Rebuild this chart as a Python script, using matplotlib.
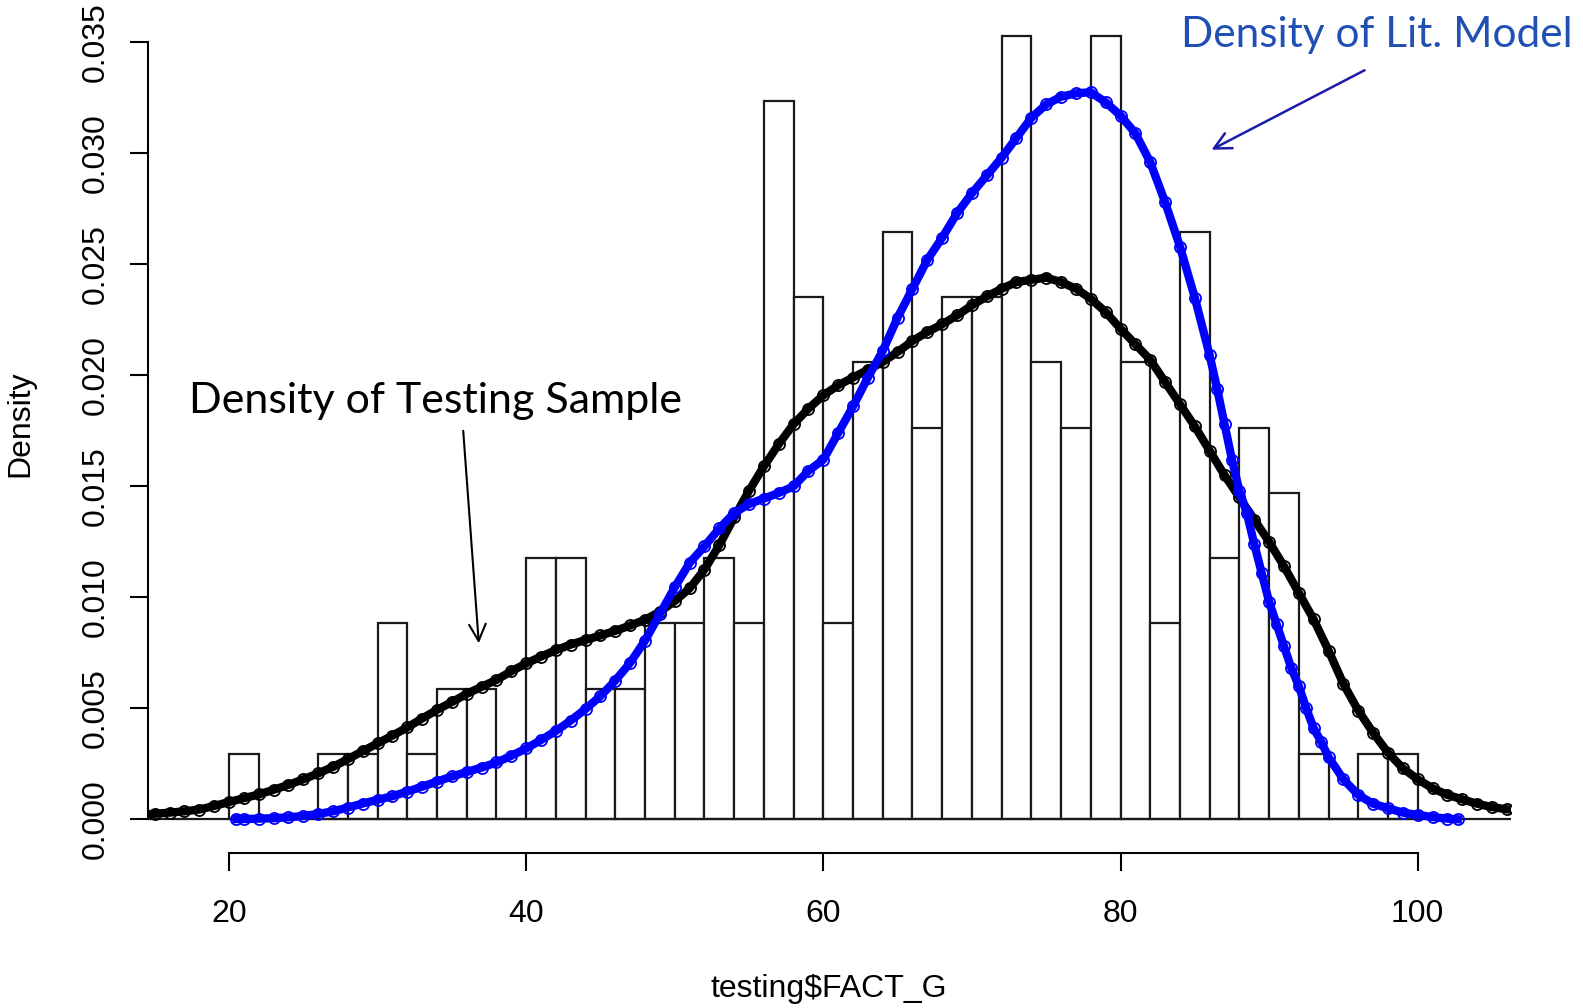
import numpy as np
import matplotlib
matplotlib.use("Agg")
import matplotlib.pyplot as plt

# histogram of testing$FACT_G, bins of width 2 from 20 to 100
bin_left = np.arange(20, 100, 2)
counts = [1, 0, 0, 1, 1, 3, 1, 2, 2, 0,
          4, 4, 2, 2, 3, 3, 4, 3, 11, 8,
          3, 7, 9, 6, 8, 8, 12, 7, 6, 12,
          7, 3, 9, 4, 6, 5, 1, 0, 1, 1]

# density of testing sample (black)
black_x = list(range(14, 108))
black_y = [0.0002, 0.00025, 0.0003, 0.00036, 0.00044, 0.0006, 0.00078, 0.00095, 0.00112, 0.00133,
           0.00155, 0.0018, 0.00207, 0.00236, 0.00271, 0.00307, 0.00342, 0.00377, 0.00414, 0.00454,
           0.00493, 0.00528, 0.00565, 0.00597, 0.00628, 0.00667, 0.00702, 0.00733, 0.00762, 0.00787,
           0.00808, 0.00828, 0.00849, 0.00873, 0.00899, 0.00935, 0.00983, 0.0104, 0.01125, 0.01235,
           0.0136, 0.0148, 0.0159, 0.0169, 0.0178, 0.0185, 0.0191, 0.01955, 0.0199, 0.02025,
           0.0206, 0.02105, 0.02155, 0.02195, 0.0223, 0.0227, 0.02315, 0.02355, 0.0239, 0.0242,
           0.0243, 0.0244, 0.0242, 0.0239, 0.02345, 0.02285, 0.0221, 0.0214, 0.0207, 0.0197,
           0.0187, 0.0177, 0.0166, 0.0155, 0.0145, 0.0135, 0.0125, 0.0114, 0.0102, 0.009,
           0.0076, 0.0061, 0.0049, 0.0039, 0.003, 0.0023, 0.0018, 0.0014, 0.0011, 0.0009,
           0.0007, 0.00055, 0.00045, 0.0004]

# density of lit. model (blue)
blue_x = [20.5, 21, 22, 23, 24, 25, 26, 27, 28, 29, 30, 31, 32, 33, 34, 35, 36, 37, 38, 39,
          40, 41, 42, 43, 44, 45, 46, 47, 48, 49, 50, 51, 52, 53, 54, 55, 56, 57, 58, 59,
          60, 61, 62, 63, 64, 65, 66, 67, 68, 69, 70, 71, 72, 73, 74, 75, 76, 77, 78, 79,
          80, 81, 82, 83, 84, 85, 86, 86.5, 87, 87.5, 88, 88.5, 89, 89.5, 90, 90.5, 91, 91.5,
          92, 92.5, 93, 93.5, 94, 95, 96, 97, 98, 99, 100, 101, 102, 102.7]
blue_y = [0.00001, 0.00001, 0.00003, 0.00005, 0.00009, 0.00015, 0.00024, 0.00036, 0.00053, 0.00071,
          0.00088, 0.00104, 0.00125, 0.00147, 0.0017, 0.00193, 0.00213, 0.00233, 0.00256, 0.00286,
          0.00319, 0.00357, 0.00398, 0.00445, 0.00497, 0.00555, 0.00625, 0.00705, 0.00805, 0.00925,
          0.01045, 0.01155, 0.0123, 0.0131, 0.0138, 0.0142, 0.01445, 0.0147, 0.015, 0.0157,
          0.0162, 0.0174, 0.0186, 0.0199, 0.0211, 0.0226, 0.0239, 0.0252, 0.0262, 0.0273,
          0.0282, 0.029, 0.0298, 0.0307, 0.0316, 0.0322, 0.03255, 0.0327, 0.03275, 0.0323,
          0.0317, 0.0309, 0.0296, 0.0278, 0.0258, 0.0235, 0.0209, 0.0194, 0.0178, 0.0162,
          0.0148, 0.0138, 0.0124, 0.0111, 0.0098, 0.0088, 0.0078, 0.0068, 0.006, 0.005,
          0.0041, 0.0035, 0.0028, 0.0018, 0.0011, 0.0007, 0.0005, 0.0003, 0.0002, 0.0001,
          0.00003, 0.0]

yticks = [0.000, 0.005, 0.010, 0.015, 0.020, 0.025, 0.030, 0.035]
xticks = [20, 40, 60, 80, 100]

n = sum(counts)
dens = np.array(counts) / (n * 2.0)

fig = plt.figure(figsize=(15.83, 10.08), dpi=100)
ax = fig.add_axes([148 / 1583, 155 / 1008, 1363 / 1583, 853 / 1008])
ax.set_xlim(14.55, 106.28)
ax.set_ylim(-0.001518, 0.036905)

# bars (white fill, black outline)
ax.bar(bin_left, dens, width=2, align='edge', color='white', edgecolor='#1a1a1a',
       linewidth=1.6, zorder=2)
ax.axhline(0, color='#1a1a1a', lw=1.6, zorder=2)

# density curves drawn as thick bands of open circles (R type="p")
ax.plot(black_x, black_y, color='black', lw=6, zorder=3)
ax.plot(black_x, black_y, ls='none', marker='o', ms=8, mfc='none', mec='black', mew=1.3, zorder=3)
ax.plot(blue_x, blue_y, color='#0000ff', lw=6, zorder=4)
ax.plot(blue_x, blue_y, ls='none', marker='o', ms=8, mfc='none', mec='#0000ff', mew=1.3, zorder=4)

for s in ['top', 'right']:
    ax.spines[s].set_visible(False)
ax.spines['left'].set_bounds(0, 0.035)
ax.spines['bottom'].set_bounds(20, 100)
ax.spines['left'].set_linewidth(1.5)
ax.spines['bottom'].set_linewidth(1.5)

ax.set_xticks(xticks)
ax.set_yticks(yticks)
ax.set_yticklabels(['%.3f' % v for v in yticks], rotation=90, va='center')
ax.tick_params(axis='both', direction='out', length=13, width=1.5,
               labelsize=23, colors='black')
ax.tick_params(axis='x', pad=20)
ax.tick_params(axis='y', pad=14)
for lab in ax.get_xticklabels() + ax.get_yticklabels():
    lab.set_family('Liberation Sans')

fig.text(829 / 1583, 1 - 989 / 1008, 'testing$FACT_G', ha='center', va='center',
         fontsize=23, family='Liberation Sans')
fig.text(20 / 1583, 1 - 424 / 1008, 'Density', ha='center', va='center', rotation=90,
         fontsize=23, family='Liberation Sans')

# annotations
fig.text(189 / 1583, 1 - 413 / 1008, 'Density of Testing Sample', ha='left', va='baseline',
         fontsize=31, family='Lato', color='black')
ax.annotate('', xy=(479, 1008 - 646), xycoords='figure pixels',
            xytext=(463, 1008 - 428), textcoords='figure pixels',
            arrowprops=dict(arrowstyle='->', color='black', lw=1.5, mutation_scale=30))

fig.text(1181 / 1583, 1 - 47 / 1008, 'Density of Lit. Model', ha='left', va='baseline',
         fontsize=30.5, family='Lato', color='#2150b5')
ax.annotate('', xy=(1209, 1008 - 151), xycoords='figure pixels',
            xytext=(1367, 1008 - 69), textcoords='figure pixels',
            arrowprops=dict(arrowstyle='->', color='#1c1cab', lw=1.8, mutation_scale=30))

fig.savefig('out.png', dpi=100)
